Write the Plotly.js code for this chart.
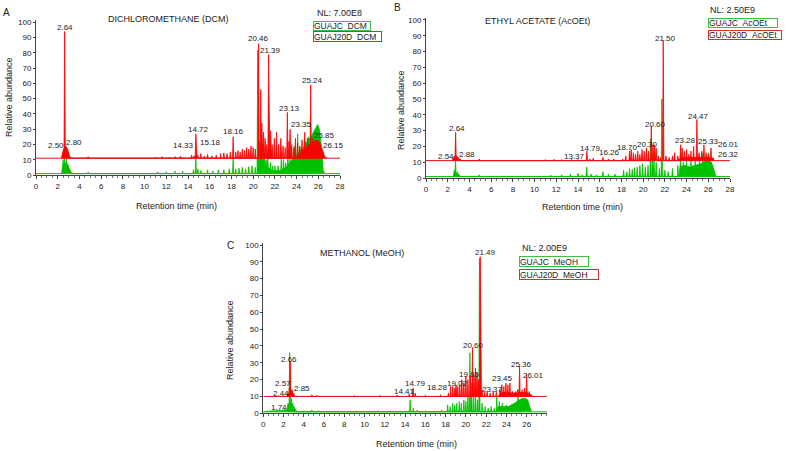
<!DOCTYPE html>
<html><head><meta charset="utf-8">
<script src="https://cdn.plot.ly/plotly-3.0.1.min.js"></script>
<style>html,body{margin:0;padding:0;background:#fff}#chart{width:789px;height:451px}</style>
</head><body><div id="chart"></div>
<script>
// ---------- DATA ----------
// Panel A : DICHLOROMETHANE (DCM)
const aRedSpikeT = [2.45,2.55,2.64,2.72,2.8,2.9,3.0,3.1,4.8,11.0,11.6,12.3,12.8,13.3,14.33,14.55,14.72,14.9,15.18,15.5,15.8,16.2,16.6,17.0,17.3,17.6,17.9,18.16,18.4,18.6,18.8,19.0,19.2,19.4,19.6,19.8,20.0,20.2,20.5,20.7,20.8,20.95,21.1,21.25,21.42,21.6,21.75,21.95,22.15,22.35,22.55,22.75,22.95,23.15,23.3,23.4,23.55,23.75,23.9,24.1,24.3,24.5,24.75,25.0,25.3,25.5,26.4];
const aRedSpikeV = [14,17,94,19,18,16,13,12,12,11.8,12,11.8,12,12.3,13,12.5,27,13,14,12.5,13.5,12.5,13,14,14.5,14,15,25,15,16,15,17,16,18,17,19,18,17,86,56,34,28,24,20,79,29,20,24,28,20,24,19,18,41,22,30,20,18,24,21,19,23,28,24,59,24,15];
const aRedHumpT = [2.35,2.5,2.7,2.9,3.1,3.3, 24.0,24.5,25.0,25.4,25.7,26.0,26.2,26.4,26.6,26.8];
const aRedHumpV = [11,16,19,17,12,11, 11,15,19,21,22.5,22.6,20,16,12,11];
const aGreenSpikeT = [2.5,2.62,2.8,2.95,4.8,11.2,12.0,12.8,13.5,14.5,14.72,14.9,15.2,15.8,16.3,16.8,17.3,17.8,18.16,18.4,18.7,19.0,19.3,19.6,19.9,20.2,20.42,20.6,20.75,20.9,21.05,21.2,21.35,21.6,21.8,22.0,22.3,22.6,22.8,23.0,23.2,23.4,23.6,23.8,24.1,24.3,24.5,24.8,25.1];
const aGreenSpikeV = [10,11,11.5,7,2,2,2,2.5,2.5,3.5,11,4,3,3.5,2.5,3.5,3.5,4,11,4,4.5,5,4,5.5,6,5,82,22,18,20,14,10,14,8,6,6,6,15,10,8,17,14,12,19,27,18,17,22,25];
const aGreenHumpT = [2.35,2.5,2.8,3.0,3.3, 20.4,20.5,21.0,21.3,21.8,22.5,23.0,23.5,24.0,24.5,25.0,25.4,25.7,25.95,26.1,26.3,26.45,26.6];
const aGreenHumpV = [1,7,8,5,1, 1,12,10,5,3,3,5,9,13,17,22,26,30,33,30,18,3,1];
const aLabTxt = ["2.64","2.50","2.80","14.33","14.72","15.18","18.16","20.46","21.39","23.13","23.35","25.24","25.85","26.15"];
const aLabX   = [2.64,2.67,2.67,14.64,14.95,15.04,18.17,20.47,21.64,23.33,23.4,25.48,25.5,26.3];
const aLabV   = [93,16,17.5,16,26.5,18,25,85.5,78,40,29.5,58.5,22,16];
const aLabPos = ["c","r","l","r","c","l","c","c","c","c","l","c","l","l"];

// Panel B : ETHYL ACETATE (AcOEt)
const bRedSpikeT = [2.5,2.6,2.73,2.85,3.0,3.15,4.9,11.0,11.8,12.5,13.4,14.0,14.82,15.1,15.4,16.3,16.8,17.3,18.1,18.4,18.75,18.9,19.1,19.3,19.5,19.7,19.9,20.1,20.3,20.5,20.75,20.9,21.05,21.2,21.4,21.6,21.85,22.1,22.4,22.7,22.9,23.2,23.45,23.6,23.8,24.0,24.2,24.4,24.65,24.95,25.15,25.4,25.6,25.8,26.0,26.25,26.45];
const bRedSpikeV = [12.5,14,29,14,13,12,12,11.7,11.8,11.7,11.8,11.7,17,12,12.5,13,12,12,12,14,17,18,16,15,17,15,18,17,19,17,33,21,21,19,14,13,87,14,13,14,16,14,21,19,17,18,15,17,20,37,16,17,21,16,15,19,13];
const bRedHumpT = [2.45,2.6,2.9,3.2, 23.2,23.5,24.0,24.5,25.0,25.5,26.0,26.4,26.6];
const bRedHumpV = [11,13,13,11, 11,13,13,13,13,13,13,12.5,11];
const bGreenSpikeT = [2.6,2.72,2.9,4.9,11.5,12.5,13.3,14.0,14.4,14.8,15.2,15.7,16.3,16.8,17.4,18.2,18.5,18.75,19.0,19.2,19.45,19.7,19.95,20.2,20.45,20.68,20.85,21.0,21.2,21.5,21.72,22.0,22.3,22.7,23.2,23.45,23.7,24.0,24.4,24.8,25.2,25.5,25.8,26.05,26.3];
const bGreenSpikeV = [5,12,4,2,1.7,2,2.5,3,2,7,2.5,2,4,2.5,2.5,5,4,6,5.5,6.5,7,8,9,7,8,25,15,12,10,6,50,5,4,6,8,19,10,11,12,11,13,16,12,16,10];
const bGreenHumpT = [2.5,2.6,2.9,3.2, 23.3,23.4,23.8,24.3,24.8,25.3,25.8,26.1,26.4,26.6,26.7];
const bGreenHumpV = [1,3,3,1, 1,7,8,7,8,9,11,12,8,2,1];
const bLabTxt = ["2.64","2.54","2.88","13.37","14.79","16.26","18.70","20.30","20.60","21.50","23.28","24.47","25.33","26.01","26.32"];
const bLabX   = [2.82,2.67,2.98,13.72,15.19,16.94,18.55,20.4,21.15,22.07,23.94,25.08,26.0,26.77,26.77];
const bLabV   = [28,10.2,11.5,10.2,15.5,12.5,16,17.5,30.5,85,20.3,35.5,19.6,17.8,11.5];
const bLabPos = ["c","r","l","c","c","c","c","c","c","c","c","c","c","l","l"];

// Panel C : METHANOL (MeOH)
const cRedSpikeT = [2.44,2.57,2.66,2.75,2.85,3.0,4.8,5.3,9.0,11.5,13.2,14.41,14.79,15.0,16.0,17.5,18.28,18.5,18.7,18.9,19.02,19.2,19.4,19.6,19.8,20.0,20.2,20.45,20.65,20.8,20.95,21.1,21.25,21.42,21.6,21.85,22.1,22.4,22.7,23.0,23.37,23.55,23.75,23.95,24.15,24.35,24.6,24.9,25.1,25.3,25.55,25.8,26.0,26.25,26.5];
const cRedSpikeV = [12,15,31,14,14,12,11,10.7,10.6,10.6,10.8,11.5,15,12,10.8,11,12,16,16,15,17,16,17,20,18,22,20,22,39,23,27,24,20,93,14,12.5,13,12,13,12.5,14,17,16,18,17,18,13,13,14,28,14,15,23,13,11];
const cRedHumpT = [2.35,2.5,2.8,3.0,3.2, 23.2,23.4,24.0,24.6,25.5,26.0,26.4,26.6];
const cRedHumpV = [10,12,13,11,10, 10,12,12.5,12,12.5,12.5,11,10];
const cGreenSpikeT = [2.45,2.6,2.75,2.9,4.8,5.5,9.2,11.3,12.5,14.5,14.8,15.2,16.0,17.6,18.2,18.45,18.7,18.9,19.1,19.35,19.55,19.8,20.0,20.2,20.4,20.55,20.75,20.95,21.15,21.34,21.6,21.9,22.2,22.5,22.8,23.05,23.3,23.6,24.0,25.15,25.5];
const cGreenSpikeV = [6,36,9,6,2,1.5,1.5,1.5,1.5,8,3,2,1.5,2,5,4,6,5,6,7,6,8,7,10,36,18,12,14,8,92,6,4,3,4,3,10,7,6,5,14,9];
const cGreenHumpT = [0.0,1.0,1.74,2.3,2.45,2.8,3.1,3.3, 23.0,23.2,23.6,24.2,24.8,25.3,25.8,26.1,26.35,26.5];
const cGreenHumpV = [1,1.5,2,2,5,6,3,1, 1,4,4,4,6,8,9,8,3,1];
const cLabTxt = ["2.66","2.57","2.44","2.85","1.74","14.41","14.79","18.28","19.02","19.85","20.60","21.49","23.37","23.45","25.36","26.01"];
const cLabX   = [2.57,2.8,2.6,2.96,1.58,13.92,15.07,17.2,19.2,20.35,20.8,21.9,22.64,23.63,25.5,26.72];
const cLabV   = [29,14.2,8.6,11.3,0,9.5,14.2,11.8,14.4,19.8,37.3,92.5,11,17.2,25.8,19.3];
const cLabPos = ["c","r","r","l","c","c","c","c","c","c","c","c","c","c","c","c"];

const yTicks = [0,10,20,30,40,50,60,70,80,90,100];
const xTicksAB = [0,2,4,6,8,10,12,14,16,18,20,22,24,26,28];
const xTicksC = [0,2,4,6,8,10,12,14,16,18,20,22,24,26];
const xRange = [0,28];
const yRange = [0,101.5];
const redBase = {A:11, B:11, C:10};
const greenBase = 0.9;

// ---------- STYLE ----------
const RED = '#ff0000', GREEN = '#00c000';
const FONT = 'Liberation Sans, Arial, sans-serif';
const W = 789, H = 451;

function spikes(ts, vs, base, hw){
  const idx = ts.map((t,i)=>i).sort((a,b)=>ts[a]-ts[b]);
  const x=[], y=[];
  idx.forEach(i=>{ x.push(ts[i]-hw, ts[i], ts[i]+hw); y.push(base, vs[i], base); });
  return {x, y};
}
function area(x, y, xa, ya, color){
  return {x, y, xaxis:xa, yaxis:ya, type:'scatter', mode:'lines', fill:'toself',
          fillcolor:color, line:{color:color, width:0.8}, hoverinfo:'skip'};
}
function line(y, xa, ya, color){
  return {x:xRange, y:[y,y], xaxis:xa, yaxis:ya, type:'scatter', mode:'lines',
          line:{color:color, width:1}, hoverinfo:'skip'};
}
function panel(xa, ya, rb, gST, gSV, gHT, gHV, rST, rSV, rHT, rHV){
  const gs = spikes(gST, gSV, greenBase, 0.06);
  const rs = spikes(rST, rSV, rb, 0.06);
  return [
    area(gHT, gHV, xa, ya, GREEN),
    area(gs.x, gs.y, xa, ya, GREEN),
    line(greenBase, xa, ya, GREEN),
    area(rHT, rHV, xa, ya, RED),
    area(rs.x, rs.y, xa, ya, RED),
    line(rb, xa, ya, '#e81010')
  ];
}
const data = [].concat(
  panel('x','y', redBase.A, aGreenSpikeT, aGreenSpikeV, aGreenHumpT, aGreenHumpV, aRedSpikeT, aRedSpikeV, aRedHumpT, aRedHumpV),
  panel('x2','y2', redBase.B, bGreenSpikeT, bGreenSpikeV, bGreenHumpT, bGreenHumpV, bRedSpikeT, bRedSpikeV, bRedHumpT, bRedHumpV),
  panel('x3','y3', redBase.C, cGreenSpikeT, cGreenSpikeV, cGreenHumpT, cGreenHumpV, cRedSpikeT, cRedSpikeV, cRedHumpT, cRedHumpV)
);

function xAxis(l, r, anchor, ticks){
  return {domain:[l/W, r/W], anchor, range:xRange, tickvals:ticks, ticktext:ticks.map(String),
    showgrid:false, zeroline:false, showline:true, linecolor:'#444', linewidth:1,
    ticks:'outside', ticklen:3, tickcolor:'#444', tickfont:{family:FONT, size:8, color:'#222'},
    minor:{ticks:'outside', ticklen:2, dtick:0.5, tickcolor:'#777'}, fixedrange:true};
}
function yAxis(bot, top, anchor){
  return {domain:[1-bot/H, 1-top/H], anchor, range:yRange, tickvals:yTicks, ticktext:yTicks.map(String),
    showgrid:false, zeroline:false, showline:true, linecolor:'#444', linewidth:1,
    ticks:'outside', ticklen:2, tickcolor:'#444', tickfont:{family:FONT, size:8, color:'#222'}, fixedrange:true};
}

const ann = [];
function txt(text, px, py, size, opts){
  ann.push(Object.assign({text, x:px/W, y:1-py/H, xref:'paper', yref:'paper', showarrow:false,
    xanchor:'center', yanchor:'middle', font:{family:FONT, size, color:'#222'}}, opts||{}));
}
function box(text, px, py, w, h, color){
  ann.push({text, x:px/W, y:1-py/H, xref:'paper', yref:'paper', showarrow:false,
    xanchor:'left', yanchor:'top', align:'left', width:w, height:h, borderpad:0,
    bordercolor:color, borderwidth:1, bgcolor:'#fff', font:{family:FONT, size:8.5, color:'#222'}});
}
function labels(xr, yr, t, xs, vs, pos){
  t.forEach((s,i)=>{
    ann.push({text:s, x:xs[i], y:vs[i], xref:xr, yref:yr, showarrow:false,
      xanchor: pos[i]==='r'?'right':(pos[i]==='l'?'left':'center'), yanchor:'bottom',
      borderpad:0, font:{family:FONT, size:8, color:'#222'}});
  });
}
labels('x','y', aLabTxt, aLabX, aLabV, aLabPos);
labels('x2','y2', bLabTxt, bLabX, bLabV, bLabPos);
labels('x3','y3', cLabTxt, cLabX, cLabV, cLabPos);

// panel letters, titles, NL and legend boxes, axis titles
txt('A', 6, 12, 10); txt('B', 397, 8, 10); txt('C', 230, 245, 10);
txt('DICHLOROMETHANE (DCM)', 168, 19, 9);
txt('ETHYL ACETATE (AcOEt)', 537, 21, 9);
txt('METHANOL (MeOH)', 362, 253, 9);
txt('NL: 7.00E8', 315, 13, 9, {xanchor:'left'});
txt('NL: 2.50E9', 708, 10, 9, {xanchor:'left'});
txt('NL: 2.00E9', 520, 248, 9, {xanchor:'left'});
box('GUAJC_DCM', 313, 21, 56, 8, '#40c040');
box('GUAJ20D_DCM', 313, 31, 67, 9, '#d03030');
box('GUAJC_AcOEt', 708, 18, 68, 8, '#40c040');
box('GUAJ20D_AcOEt', 708, 30, 72, 8, '#d03030');
box('GUAJC_MeOH', 519, 256, 68, 9, '#40c040');
box('GUAJ20D_MeOH', 519, 269, 78, 9, '#d03030');
txt('Relative abundance', 9, 97, 9, {textangle:-90});
txt('Relative abundance', 401, 110, 9, {textangle:-90});
txt('Relative abundance', 230, 340, 9, {textangle:-90});
txt('Retention time (min)', 176, 206, 9);
txt('Retention time (min)', 582, 207, 9);
txt('Retention time (min)', 416, 444, 9);

const layout = {
  width:W, height:H, margin:{l:0,r:0,t:0,b:0}, paper_bgcolor:'#fff', plot_bgcolor:'#fff',
  showlegend:false,
  xaxis: xAxis(36, 340, 'y', xTicksAB),
  yaxis: yAxis(175, 20, 'x'),
  xaxis2: xAxis(426, 730, 'y2', xTicksAB),
  yaxis2: yAxis(178, 17.6, 'x2'),
  xaxis3: xAxis(263.3, 546.9, 'y3', xTicksC),
  yaxis3: yAxis(413.3, 242.5, 'x3'),
  annotations: ann
};
Plotly.newPlot('chart', data, layout, {staticPlot:true, displayModeBar:false});
</script></body></html>
